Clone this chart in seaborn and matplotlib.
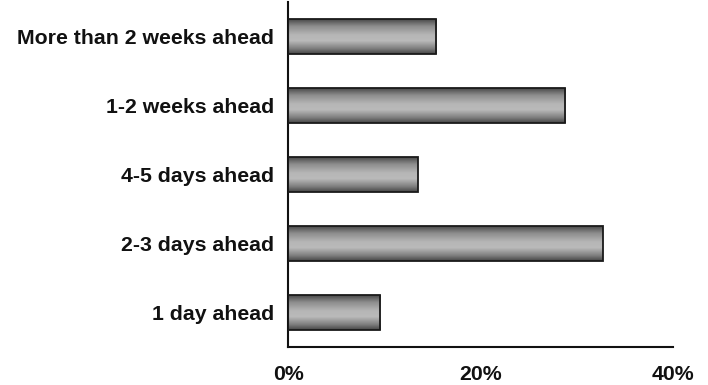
import numpy as np
import pandas as pd
import matplotlib
matplotlib.use("Agg")
import matplotlib.pyplot as plt
from matplotlib.colors import LinearSegmentedColormap
import seaborn as sns

# Survey: how far in advance the booking was made (share of respondents, %)
categories = [
    "More than 2 weeks ahead",
    "1-2 weeks ahead",
    "4-5 days ahead",
    "2-3 days ahead",
    "1 day ahead",
]
shares = [15.4, 28.8, 13.5, 32.7, 9.6]
xticks = [0, 20, 40]
xtick_labels = ["0%", "20%", "40%"]

df = pd.DataFrame({"category": categories, "share": shares})

sns.set_theme(style="white")
plt.rcParams["font.family"] = ["Liberation Sans", "DejaVu Sans"]

fig = plt.figure(figsize=(7.08, 3.85), dpi=100)
ax = fig.add_axes([288 / 708, 1 - 347 / 385, (673 - 288) / 708, (347 - 2) / 385])

sns.barplot(data=df, x="share", y="category", order=categories, orient="h",
            color="#9a9a9a", width=0.5, edgecolor="#1a1a1a", linewidth=1.3,
            ax=ax, zorder=3)

# cylinder-like shading: dark at the top and bottom edges, light in the middle
shade = LinearSegmentedColormap.from_list(
    "shade", [(0.0, "#484848"), (0.2, "#8c8c8c"), (0.45, "#b6b6b6"),
              (0.62, "#bababa"), (0.85, "#7c7c7c"), (1.0, "#444444")])
grad = np.linspace(0, 1, 256).reshape(-1, 1)
for bar in ax.patches:
    x0, y0 = bar.get_x(), bar.get_y()
    w, h = bar.get_width(), bar.get_height()
    im = ax.imshow(grad, cmap=shade, aspect="auto",
                   extent=(x0, x0 + w, y0 + h, y0), zorder=2.5,
                   interpolation="bilinear")
    im.set_clip_path(bar)
    bar.set_facecolor("none")

ax.set_xlim(0, 40)
ax.set_ylim(4.5, -0.5)
ax.set_xticks(xticks)
ax.set_xticklabels(xtick_labels)
ax.set_xlabel("")
ax.set_ylabel("")

for side in ("top", "right"):
    ax.spines[side].set_visible(False)
for side in ("left", "bottom"):
    ax.spines[side].set_color("#111111")
    ax.spines[side].set_linewidth(1.5)

ax.tick_params(axis="y", length=0, pad=10, labelsize=15.3)
ax.tick_params(axis="x", length=0, pad=13, labelsize=15.3)
for lbl in ax.get_yticklabels() + ax.get_xticklabels():
    lbl.set_fontweight("bold")
    lbl.set_color("#111111")

fig.savefig("out.png", dpi=100, facecolor="white")
